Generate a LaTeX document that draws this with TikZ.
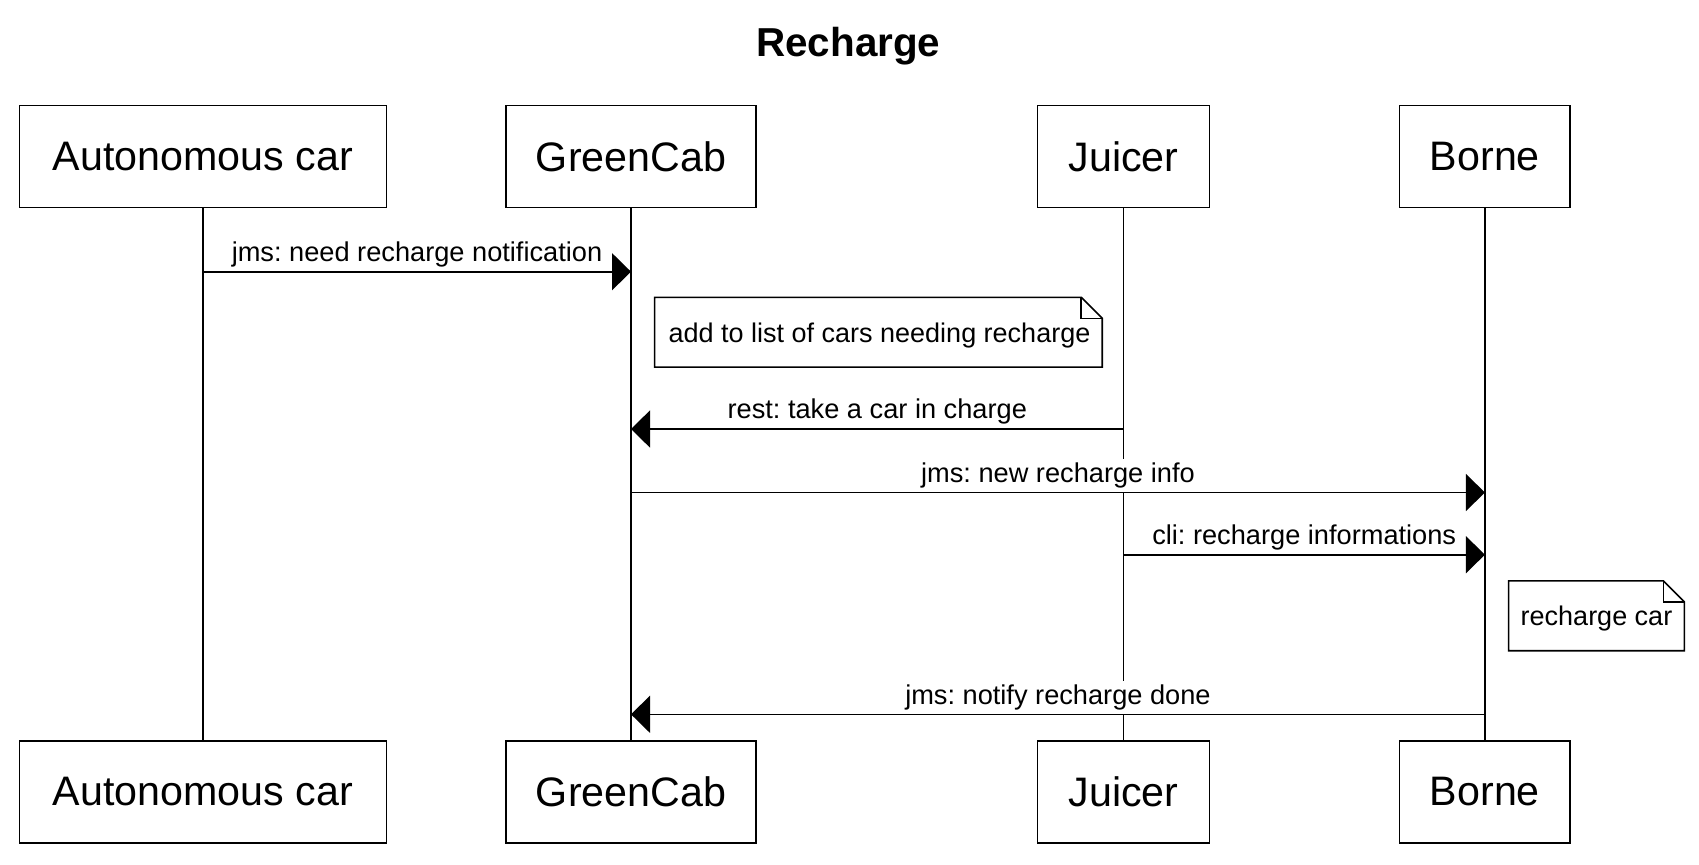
\documentclass[tikz,border=0pt]{standalone}
\usepackage{fontspec}
\setmainfont{Liberation Sans}
\usetikzlibrary{arrows.meta,calc}
\frenchspacing
\begin{document}
\begin{tikzpicture}[x=0.5pt,y=-0.5pt,
  actor/.style={draw, line width=0.8pt, minimum height=51pt, inner sep=0pt, font=\fontsize{20.6}{24}\selectfont},
  life/.style={line width=0.8pt},
  msg/.style={line width=0.8pt, -{Triangle[length=9.5pt,width=18.5pt]}},
  lbl/.style={fill=white, inner xsep=1pt, inner ysep=2pt, anchor=south, font=\fontsize{13.6}{16}\selectfont},
  notebox/.style={minimum height=34.5pt, inner sep=0pt},
  notetext/.style={anchor=base, inner sep=0pt, font=\fontsize{13.5}{16}\selectfont},
  noteline/.style={line width=0.8pt, fill=white}
]
\frenchspacing
\path[use as bounding box, fill=white] (0,0) rectangle (1699,864);

% title
\node[font=\bfseries\fontsize{20.2}{24}\selectfont, anchor=base] (title) at (848.3,56.7) {Recharge};

% participants (top)
\node[actor, minimum width=183.5pt] (at) at (203,156.3) {Autonomous car};
\node[actor, minimum width=125.2pt] (gt) at (631,156.3) {GreenCab};
\node[actor, minimum width=86.1pt] (jt) at (1123.5,156.3) {Juicer};
\node[actor, minimum width=85.3pt] (bt) at (1484.9,156.3) {Borne};
% participants (bottom)
\node[actor, minimum width=183.5pt] (ab) at (203,791.9) {Autonomous car};
\node[actor, minimum width=125.2pt] (gb) at (631,791.9) {GreenCab};
\node[actor, minimum width=86.1pt] (jb) at (1123.5,791.9) {Juicer};
\node[actor, minimum width=85.3pt] (bb) at (1484.9,791.9) {Borne};

% lifelines
\draw[life] (at) -- (ab);
\draw[life] (gt) -- (gb);
\draw[life] (jt) -- (jb);
\draw[life] (bt) -- (bb);

% message end points
\coordinate (m1s) at (at |- 0,271.7);
\coordinate (m1e) at (gt |- 0,271.7);
\coordinate (m2s) at (jt |- 0,429);
\coordinate (m2e) at (gt |- 0,429);
\coordinate (m3s) at (gt |- 0,492.5);
\coordinate (m3e) at (bt |- 0,492.5);
\coordinate (m4s) at (jt |- 0,554.7);
\coordinate (m4e) at (bt |- 0,554.7);
\coordinate (m5s) at (bt |- 0,714.3);
\coordinate (m5e) at (gt |- 0,714.3);

% labels
\node[lbl] (l1) at ($(m1s)!0.5!(m1e)$) {jms: need recharge notification};
\node[lbl] (l2) at ($(m2s)!0.5!(m2e)$) {rest: take a car in charge};
\node[lbl] (l3) at ($(m3s)!0.5!(m3e)$) {jms: new recharge info};
\node[lbl] (l4) at ($(m4s)!0.5!(m4e)$) {cli: recharge informations};
\node[lbl] (l5) at ($(m5s)!0.5!(m5e)$) {jms: notify recharge done};

% messages
\draw[msg] (m1s) -- (m1e);
\draw[msg] (m2s) -- (m2e);
\draw[msg] (m3s) -- (m3e);
\draw[msg] (m4s) -- (m4e);
\draw[msg] (m5s) -- (m5e);

% notes
\node[notebox, minimum width=223.45pt] (n1) at (878.4,332.2) {};
\draw[noteline] (n1.north west) -- ([xshift=-10.5pt]n1.north east) -- ([yshift=-10.5pt]n1.north east) -- (n1.south east) -- (n1.south west) -- cycle;
\draw[line width=0.8pt] ([xshift=-10.5pt]n1.north east) -- ([xshift=-10.5pt,yshift=-10.5pt]n1.north east) -- ([yshift=-10.5pt]n1.north east);
\node[notetext] (t1) at (879.5,342.3) {add to list of cars needing recharge};

\node[notebox, minimum width=87.5pt] (n2) at (1596.5,615.8) {};
\draw[noteline] (n2.north west) -- ([xshift=-10.5pt]n2.north east) -- ([yshift=-10.5pt]n2.north east) -- (n2.south east) -- (n2.south west) -- cycle;
\draw[line width=0.8pt] ([xshift=-10.5pt]n2.north east) -- ([xshift=-10.5pt,yshift=-10.5pt]n2.north east) -- ([yshift=-10.5pt]n2.north east);
\node[notetext] (t2) at (1596.5,625.3) {recharge car};
\end{tikzpicture}
\end{document}
